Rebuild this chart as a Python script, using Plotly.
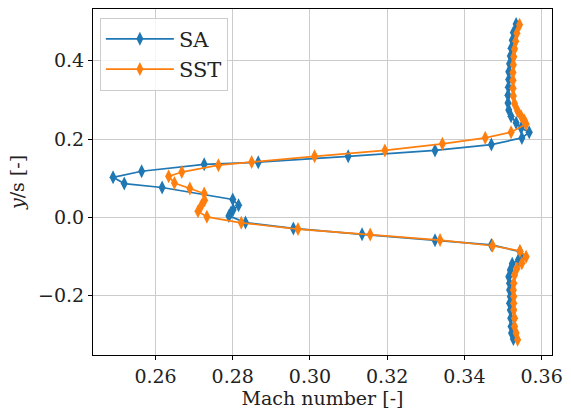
import plotly.graph_objects as go

# SA series (Mach number, y/s)
sa_y = [0.494, 0.472, 0.452, 0.432, 0.412, 0.392, 0.372, 0.352, 0.332, 0.312, 0.292,
        0.274, 0.258, 0.242, 0.228, 0.2175, 0.203, 0.186, 0.171, 0.156, 0.141, 0.1355,
        0.118, 0.1025, 0.0865, 0.0765, 0.046, 0.031, 0.020, 0.012, 0.004, -0.013,
        -0.028, -0.043, -0.058, -0.070, -0.087, -0.099, -0.108, -0.118, -0.134, -0.151,
        -0.168, -0.185, -0.202, -0.219, -0.236, -0.257, -0.278, -0.295, -0.310]
sa_m = [0.3534, 0.3527, 0.3524, 0.3521, 0.3519, 0.3517, 0.3515, 0.3515, 0.3514, 0.3513, 0.3513,
        0.3515, 0.3521, 0.3534, 0.3547, 0.3568, 0.3549, 0.3470, 0.3324, 0.3099, 0.2866, 0.2726,
        0.2564, 0.2490, 0.2519, 0.2617, 0.2800, 0.2815, 0.2801, 0.2795, 0.2790, 0.2833,
        0.2957, 0.3135, 0.3324, 0.3470, 0.3544, 0.3548, 0.3540, 0.3524, 0.3519, 0.3515,
        0.3517, 0.3517, 0.3519, 0.3517, 0.3519, 0.3520, 0.3521, 0.3522, 0.3527]

# SST series
sst_y = [0.492, 0.470, 0.450, 0.430, 0.410, 0.390, 0.370, 0.350, 0.330, 0.310, 0.290,
         0.272, 0.258, 0.248, 0.2388, 0.2175, 0.2033, 0.188, 0.171, 0.156, 0.1413, 0.1335,
         0.1159, 0.105, 0.0879, 0.0737, 0.061, 0.044, 0.031, 0.016, 0.0015, -0.0137,
         -0.0297, -0.0432, -0.0577, -0.0722, -0.0856, -0.100, -0.117, -0.130, -0.147,
         -0.168, -0.185, -0.202, -0.219, -0.236, -0.257, -0.278, -0.295, -0.312]
sst_m = [0.3543, 0.3536, 0.3533, 0.3530, 0.3528, 0.3527, 0.3526, 0.3526, 0.3526, 0.3527, 0.3530,
         0.3538, 0.3547, 0.3555, 0.3560, 0.3521, 0.3454, 0.3343, 0.3194, 0.3012, 0.2849, 0.2763,
         0.2668, 0.2634, 0.2649, 0.2689, 0.2726, 0.2727, 0.2719, 0.2710, 0.2733, 0.2822,
         0.2969, 0.3156, 0.3337, 0.3473, 0.3544, 0.3560, 0.3549, 0.3536, 0.3530,
         0.3528, 0.3527, 0.3528, 0.3528, 0.3528, 0.3530, 0.3530, 0.3534, 0.3538]

x_ticks = [0.26, 0.28, 0.30, 0.32, 0.34, 0.36]
y_ticks = [-0.2, 0.0, 0.2, 0.4]

FONT = "DejaVu Serif"

fig = go.Figure()
fig.add_trace(go.Scatter(x=sa_m, y=sa_y, mode="lines+markers", name="SA",
                         line=dict(color="#1f77b4", width=1.7),
                         marker=dict(symbol="diamond-tall", size=10, color="#1f77b4")))
fig.add_trace(go.Scatter(x=sst_m, y=sst_y, mode="lines+markers", name="SST",
                         line=dict(color="#ff7f0e", width=1.7),
                         marker=dict(symbol="diamond-tall", size=10, color="#ff7f0e")))

axis_common = dict(showline=True, linecolor="black", linewidth=1, mirror=True,
                   ticks="outside", ticklen=4, tickcolor="black",
                   showgrid=True, gridcolor="#cccccc", gridwidth=1, zeroline=False,
                   tickfont=dict(family=FONT, size=19, color="#222222"))

fig.update_layout(
    width=571, height=417,
    margin=dict(l=93, r=11, t=8, b=62),
    paper_bgcolor="white", plot_bgcolor="white",
    font=dict(family=FONT, size=19, color="#222222"),
    xaxis=dict(range=[0.2438, 0.3627], tickvals=x_ticks, tickformat=".2f",
               title=dict(text="Mach number [-]", font=dict(family=FONT, size=19), standoff=4),
               **axis_common),
    yaxis=dict(range=[-0.351, 0.532], tickvals=y_ticks, tickformat=".1f",
               title=dict(text="<i>y</i>/s [-]", font=dict(family=FONT, size=19), standoff=8),
               **axis_common),
    legend=dict(x=0.015, y=0.975, xanchor="left", yanchor="top",
                bgcolor="rgba(255,255,255,0.8)", bordercolor="#cccccc", borderwidth=1,
                font=dict(family=FONT, size=21), itemwidth=68, tracegroupgap=0),
    showlegend=True,
)

fig.write_html("out.html")
